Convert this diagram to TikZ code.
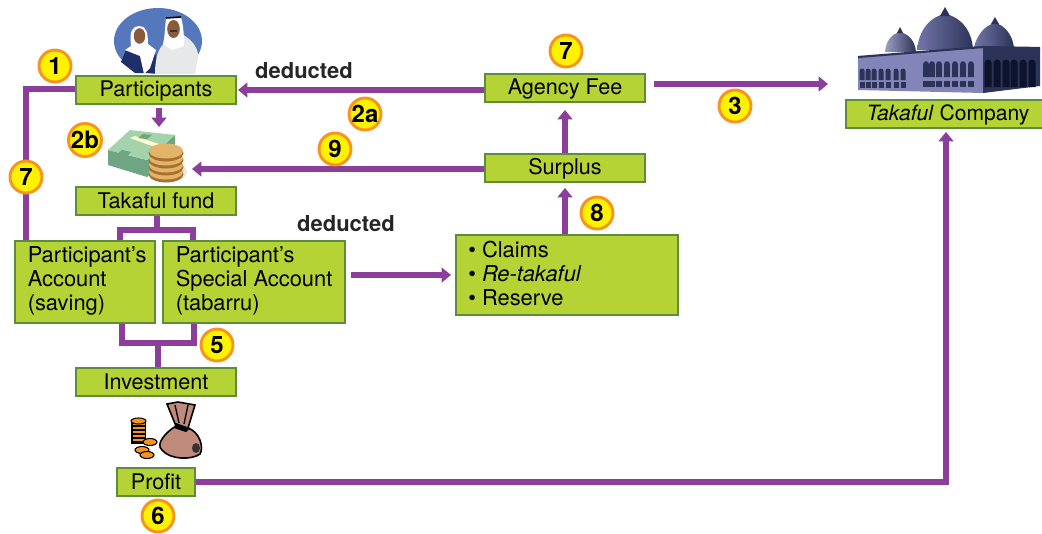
\documentclass[tikz,border=0pt]{standalone}
\usepackage{fontspec}
\setmainfont{TeX Gyre Heros}
\usetikzlibrary{arrows.meta,calc}
\definecolor{flow}{HTML}{8B3F9B}
\definecolor{boxfill}{HTML}{B5D334}
\definecolor{boxline}{HTML}{5F8B3C}
\definecolor{badgeY}{HTML}{FFF200}
\definecolor{badgeO}{HTML}{F7941D}
\definecolor{skyb}{HTML}{5577BB}
\definecolor{navy}{HTML}{1F2F6B}
\definecolor{robe}{HTML}{E6E8EA}
\definecolor{skin}{HTML}{8A5A3C}
\definecolor{bill}{HTML}{A3D2AC}
\definecolor{billd}{HTML}{6FA582}
\definecolor{coin}{HTML}{E2B46A}
\definecolor{coind}{HTML}{A8702F}
\definecolor{bagc}{HTML}{C08A7C}
\definecolor{wallc}{HTML}{8384B8}
\definecolor{walld}{HTML}{2C3358}
\definecolor{domec}{HTML}{7375A8}
\tikzset{
  x=0.75pt,y=-0.75pt,
  boxnode/.style={draw=boxline,fill=boxfill,line width=1.3pt,inner sep=0pt,
    font=\fontsize{16.2}{18}\selectfont,text=black,text height=12pt,text depth=3pt},
  lowtext/.style={text height=13.5pt},
  txt/.style={anchor=west,align=left,inner sep=0pt,font=\fontsize{16.4}{18}\selectfont,text=black},
  badge/.style={circle,draw=badgeO,fill=badgeY,line width=2.2pt,minimum size=24pt,inner sep=0pt,
    font=\fontsize{18}{18}\selectfont\bfseries,text=black},
  flowline/.style={draw=flow,line width=3.8pt},
  flowarrow/.style={draw=flow,line width=3.8pt,-{Triangle[width=11pt,length=7pt]}},
  boldlabel/.style={font=\fontsize{16.5}{18}\selectfont\bfseries,text=black!85,inner sep=0pt}
}
\begin{document}
\begin{tikzpicture}
\useasboundingbox (0,0) rectangle (1042,533);
% people
\begin{scope}
\clip (100,0) rectangle (220,73);
\fill[skyb] (158,41) ellipse [x radius=44,y radius=33];
\fill[navy] (121,62) -- (126,50) -- (140,46) -- (156,55) -- (156,73) -- (135,73) -- cycle;
\fill[white] (131,46) .. controls (129,30) and (133,26) .. (139.5,26) .. controls (146,26) and (148,32) .. (148,44) -- (156,50) -- (150,68) -- (144,74) -- (140,56) -- (125,50) -- cycle;
\fill[skin] (139.5,36) ellipse [x radius=5.7,y radius=7.8];
\fill[robe] (155,74) .. controls (155,55) and (160,45) .. (168,40) -- (182,34) .. controls (192,40) and (199,48) .. (198,58) -- (195,74) -- cycle;
\fill[white] (166,18) -- (181,17) .. controls (184,28) and (184,38) .. (184,46) -- (172,50) -- (163,44) .. controls (165,35) and (165,28) .. (166,18) -- cycle;
\fill[skin] (173.5,29) ellipse [x radius=6.3,y radius=9];
\draw[black,line width=1.2pt] (166,18) -- (181,17);
\draw[black!80,line width=1.2pt] (170,31) -- (177,31);
\end{scope}
% money
\fill[black!10] (168,172) ellipse [x radius=19,y radius=10];
\fill[billd] (108,165) -- (147,177) -- (175,152) -- (175,135) -- (147,160) -- (108,150) -- cycle;
\fill[bill] (108,150) -- (130,130) -- (175,135) -- (147,160) -- cycle;
\fill[yellow!20!white] (130,138) -- (135,136) -- (165,146) -- (160,149) -- cycle;
\fill[billd] (143,134) -- (152,135) -- (147,139) -- (138,138) -- cycle;
\fill[billd] (122,150) -- (131,152) -- (127,156) -- (118,153) -- cycle;
\foreach \yy in {174,167,160,153}{
  \fill[coind] (166,\yy) ellipse [x radius=17.5,y radius=8.5];
  \fill[coin] (166,\yy-2) ellipse [x radius=17,y radius=7.5];
}
% bag and coins
\fill[black] (131,421) rectangle (146,444);
\foreach \yy in {424,428,432,436,440}{\fill[badgeO] (133,\yy-1) rectangle (144.5,\yy+1);}
\filldraw[fill=badgeO,draw=black,line width=.8pt] (138.5,421) ellipse [x radius=7.5,y radius=3];
\filldraw[fill=badgeO,draw=black,line width=.8pt] (150,442) ellipse [x radius=7,y radius=3.5];
\filldraw[fill=badgeO,draw=black,line width=.8pt] (142,450) ellipse [x radius=7,y radius=3.5];
\filldraw[fill=badgeO,draw=black,line width=.8pt] (147,455) ellipse [x radius=7,y radius=3.5];
\filldraw[fill=bagc,draw=black,line width=1.2pt] (167,404) -- (178,402) -- (195,405) -- (188,428) .. controls (200,432) and (204,448) .. (200,454) .. controls (192,460) and (170,460) .. (162,450) .. controls (155,444) and (166,432) .. (176,426) -- cycle;
\fill[black] (176,423) -- (190,428) -- (186,432) -- (174,428) -- cycle;
\fill[black!80] (196,448) ellipse [x radius=4,y radius=5];
\draw[black,line width=1pt] (175,405) -- (179,423) (188,405) -- (184,424);
% mosque
\shade[left color=domec!70!white,right color=walld] (885,52) .. controls (886,40) and (892,34) .. (900,32) .. controls (908,34) and (915,40) .. (916,52) -- cycle;
\shade[left color=domec,right color=walld] (917,50) .. controls (919,28) and (932,16) .. (945,14) .. controls (958,16) and (972,28) .. (973,50) -- cycle;
\shade[left color=domec,right color=walld] (974,48) .. controls (976,36) and (985,25) .. (995,23) .. controls (1005,25) and (1013,36) .. (1014,48) -- cycle;
\fill[walld] (897,33) -- (900,27) -- (903,33) -- cycle;
\fill[walld] (940,16) -- (945,7) -- (950,16) -- cycle;
\fill[walld] (991,24) -- (995,17) -- (999,24) -- cycle;
\fill[wallc] (858,57) -- (983,47) -- (983,93) -- (858,90) -- cycle;
\fill[walld] (983,47) -- (1040,48) -- (1040,86) -- (983,93) -- cycle;
\draw[walld,line width=1.6pt] (858,57) -- (983,47) -- (1040,48);
\foreach \xx in {862,868,874,881,888,896,903}{\fill[walld] (\xx-2.5,80) -- (\xx-2.5,71) arc[start angle=180,end angle=360,radius=2.5] -- (\xx+2.5,80) -- cycle; \fill[walld] (\xx-2.5,82) rectangle (\xx+2.5,88);}
\foreach \xx in {926,932,939,947,955,963,971}{\fill[walld] (\xx-2.8,77) -- (\xx-2.8,64) arc[start angle=180,end angle=360,radius=2.8] -- (\xx+2.8,77) -- cycle; \fill[walld] (\xx-2.8,81) rectangle (\xx+2.8,87);}
\foreach \xx in {988,997,1006,1014,1023,1032}{\fill[black!60!navy] (\xx-3.5,87) -- (\xx-3.5,63) arc[start angle=180,end angle=360,radius=3.5] -- (\xx+3.5,87) -- cycle;}
% boxes
\node[boxnode,minimum width=120pt,minimum height=21pt] (participants) at (156,90) {Participants};
\node[boxnode,lowtext,minimum width=120pt,minimum height=21pt] (fund) at (156,201) {Takaful fund};
\node[boxnode,minimum width=105pt,minimum height=61.5pt] (acct) at (85,282) {};
\node[txt] (acctT) at (27.5,280.5) {Participant’s\\Account\\(saving)};
\node[boxnode,minimum width=136.5pt,minimum height=61.5pt] (special) at (254,282) {};
\node[txt] (specialT) at (175.5,281) {Participant’s\\Special Account\\(tabarru)};
\node[boxnode,lowtext,minimum width=120pt,minimum height=21pt] (invest) at (156,382) {Investment};
\node[boxnode,lowtext,minimum width=58pt,minimum height=21pt] (profit) at (156,482) {Profit};
\node[boxnode,minimum width=120pt,minimum height=21pt] (agency) at (565,88) {Agency Fee};
\node[boxnode,minimum width=120pt,minimum height=21pt] (surplus) at (565,168) {Surplus};
\node[boxnode,minimum width=166pt,minimum height=60pt] (claims) at (567,275) {};
\node[txt] (claimsT) at (468,273) {• Claims\\• \textit{Re-takaful}\\• Reserve};
\node[boxnode,font=\fontsize{15.8}{18}\selectfont,minimum width=153pt,minimum height=21pt] (company) at (948,114) {\textit{Takaful} Company};
% free connector ends
\coordinate (moneyTop) at (159,127);
\coordinate (moneyRight) at (192,169);
\coordinate (mosqueEnd) at (828,84);
\coordinate (fundJ) at (157,230);
\coordinate (fundL) at (120,230);
\coordinate (fundR) at (193,230);
\coordinate (invJ) at (158,343);
\coordinate (invL) at (122,343);
\coordinate (invR) at (194,343);
\coordinate (leftC) at (26,89);
\coordinate (profitC) at (946,482);
% connectors
\draw[flowline] (participants.west |- leftC) -- (leftC) -- (leftC |- acct.north);
\draw[flowarrow] (159,108) -- (moneyTop);
\draw[flowarrow] (agency.west |- 0,90) -- (238,90);
\draw[flowarrow] (surplus.west |- moneyRight) -- (moneyRight);
\draw[flowarrow] (654,84) -- (mosqueEnd);
\draw[flowarrow] (surplus.north) -- (agency.south |- 0,110);
\draw[flowarrow] (claims.north -| surplus) -- (surplus.south |- 0,188);
\draw[flowarrow] (351,275) -- (451,275);
\draw[flowline] (fund.south -| fundJ) -- (fundJ);
\draw[flowline] (fundL |- acct.north) -- (fundL) -- (fundR) -- (fundR |- special.north);
\draw[flowline] (invL |- acct.south) -- (invL) -- (invR) -- (invR |- special.south);
\draw[flowline] (invJ) -- (invJ |- invest.north);
\draw[flowline,-{Triangle[width=11pt,length=7pt]}] (profit.east) -- (profit.east -| profitC) -- (profitC |- 0,132);
% labels
\node[boldlabel] (ded1) at (304,71) {deducted};
\node[boldlabel] (ded2) at (346,224) {deducted};
\node[badge] (b1) at (55,66) {1};
\node[badge] (b7a) at (26,177) {7};
\node[badge] (b2b) at (85,140) {2b};
\node[badge] (b2a) at (365,114) {2a};
\node[badge] (b9) at (335,149) {9};
\node[badge] (b7b) at (566,51) {7};
\node[badge] (b3) at (735,106) {3};
\node[badge] (b8) at (597,213) {8};
\node[badge] (b5) at (217,345) {5};
\node[badge] (b6) at (158,516) {6};
\end{tikzpicture}
\end{document}
